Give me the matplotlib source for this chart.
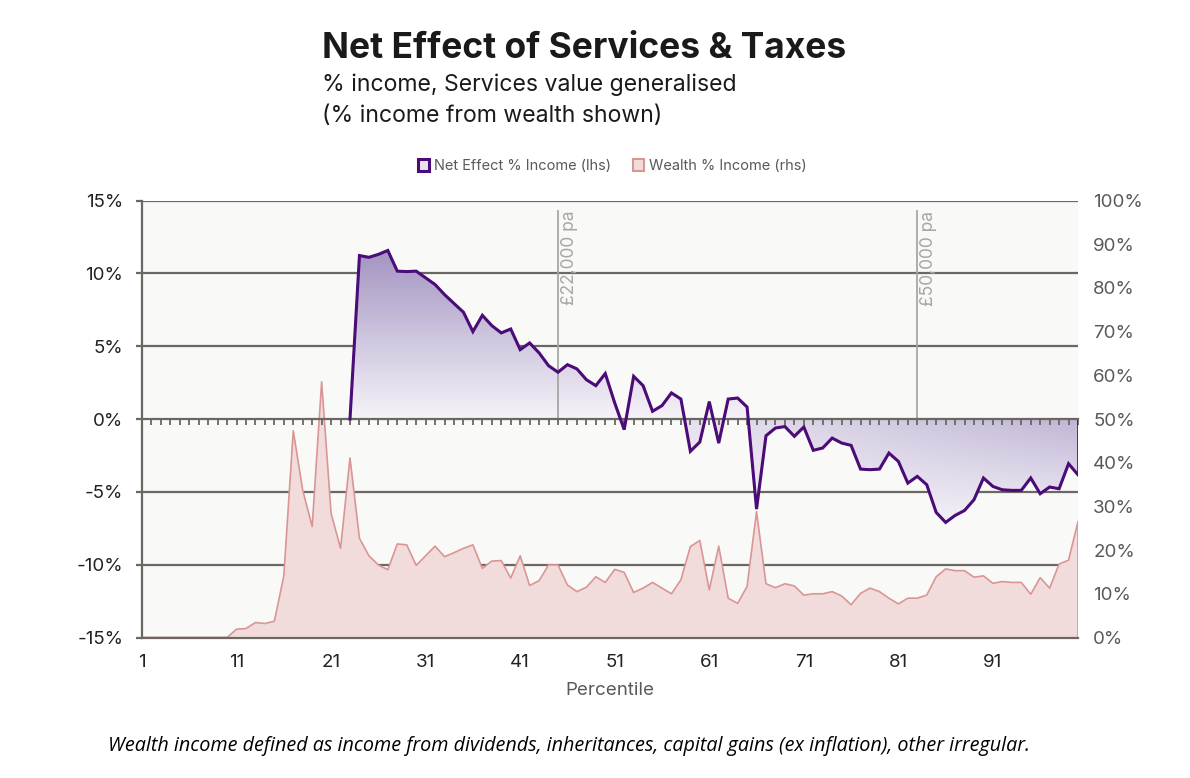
import numpy as np
import matplotlib
matplotlib.use("Agg")
import matplotlib.pyplot as plt
from matplotlib.path import Path
from matplotlib.patches import PathPatch, Patch
from matplotlib.transforms import blended_transform_factory

plt.rcParams["font.family"] = ["Inter", "DejaVu Sans"]

# percentile 1..100
percentile = np.arange(1, 101)

# net effect of services & taxes, % of income (lhs)
net_effect = [
    0, 0, 0, 0, 0, 0, 0, 0, 0, 0,
    0, 0, 0, 0, 0, 0, 0, 0, 0, 0,
    0, 0, 0, 11.22, 11.1, 11.3, 11.57, 10.15, 10.12, 10.15,
    9.69, 9.23, 8.54, 7.93, 7.33, 6.0, 7.12, 6.41, 5.91, 6.18,
    4.76, 5.22, 4.54, 3.66, 3.21, 3.73, 3.44, 2.70, 2.29, 3.12,
    1.10, -0.73, 2.93, 2.29, 0.53, 0.92, 1.79, 1.37, -2.22, -1.58,
    1.19, -1.65, 1.37, 1.44, 0.82, -6.18, -1.15, -0.62, -0.52, -1.19,
    -0.55, -2.15, -1.99, -1.31, -1.65, -1.81, -3.44, -3.48, -3.44, -2.34,
    -2.91, -4.40, -3.94, -4.51, -6.41, -7.10, -6.62, -6.28, -5.54, -4.05,
    -4.63, -4.86, -4.90, -4.90, -4.05, -5.13, -4.67, -4.79, -3.07, -3.83,
]
first_net = 23  # line is drawn from this percentile on

# wealth income as % of income (rhs)
wealth = [
    0, 0, 0, 0, 0, 0, 0, 0, 0, 0,
    1.9, 2.06, 3.43, 3.2, 3.73, 14.1, 47.3, 33.7, 25.4, 58.5,
    28.4, 20.4, 41.1, 22.7, 18.7, 16.6, 15.5, 21.4, 21.2, 16.5,
    18.7, 20.9, 18.5, 19.4, 20.4, 21.2, 15.8, 17.5, 17.6, 13.6,
    18.7, 11.9, 13.0, 16.6, 16.6, 12.0, 10.5, 11.5, 13.9, 12.6,
    15.6, 14.9, 10.3, 11.3, 12.6, 11.3, 10.0, 13.2, 20.8, 22.2,
    10.9, 20.9, 9.0, 7.8, 11.7, 28.8, 12.3, 11.4, 12.3, 11.8,
    9.7, 10.0, 10.0, 10.5, 9.5, 7.5, 10.1, 11.3, 10.5, 9.0,
    7.7, 9.0, 9.0, 9.7, 13.9, 15.7, 15.3, 15.3, 13.8, 14.1,
    12.4, 12.8, 12.6, 12.6, 9.9, 13.7, 11.3, 16.8, 17.7, 26.5,
]

# income markers (percentile, label)
markers = [(45, "£22,000 pa"), (83, "£50,000 pa")]
marker_top = 14.3

left_ticks = [-15, -10, -5, 0, 5, 10, 15]
right_ticks = list(range(0, 101, 10))
x_ticks = list(range(1, 101, 10))

PURPLE = "#4B0C78"
PINK_LINE = "#D99694"
PINK_FILL = "#F2DCDB"
GRID = "#6B6762"
BG = "#F9F9F7"

fig = plt.figure(figsize=(11.9, 7.78), dpi=100)
rect = [142 / 1190, 1 - 637.5 / 778, 936 / 1190, 437 / 778]

# right axis (wealth) underneath, left axis (net effect) on top
ax2 = fig.add_axes(rect, zorder=1)
ax = fig.add_axes(rect, zorder=2, sharex=ax2)
ax.patch.set_visible(False)
ax2.set_facecolor(BG)

ax.set_xlim(1, 100)
ax.set_ylim(-15, 15)
ax2.set_ylim(0, 100)

# gridlines follow the left scale but sit below the wealth area
tr = blended_transform_factory(ax2.transAxes, ax.transData)
for v in left_ticks:
    if v == 0:
        continue
    ax2.plot([0, 1], [v, v], transform=tr, color=GRID, lw=1.6, zorder=0.5)

# wealth area
ax2.fill_between(percentile, wealth, 0, facecolor=PINK_FILL, edgecolor="none", zorder=1)
ax2.plot(percentile, wealth, color=PINK_LINE, lw=1.2, zorder=2)
ax2.plot([100, 100], [0, wealth[-1]], color=PINK_LINE, lw=1.2, zorder=2)

# net effect area with gradient fill
verts = np.vstack([np.column_stack([percentile, net_effect]),
                   np.column_stack([percentile[::-1], np.zeros(100)]),
                   [[percentile[0], net_effect[0]]]])
codes = [Path.MOVETO] + [Path.LINETO] * (len(verts) - 2) + [Path.CLOSEPOLY]
area = PathPatch(Path(verts, codes), facecolor="none", edgecolor=PURPLE,
                 lw=1.2, transform=ax.transData, zorder=2)
ax.add_patch(area)

gx = np.linspace(1, 100, 300)
gy = np.linspace(-8, 12, 300)
GX, GY = np.meshgrid(gx, gy)
t_pos = np.clip(GY / 11.6, 0, 1)
t_neg = np.clip((0.15 + 0.5 * (GX - 55) / 45) * (1 + GY / 7.5), 0, 1)
t = np.where(GY >= 0, t_pos, t_neg)
dark = np.array([0.64, 0.58, 0.76])
light = np.array([0.965, 0.955, 0.975])
img = light + t[..., None] * (dark - light)
im = ax.imshow(img, extent=[1, 100, -8, 12], origin="lower", aspect="auto",
               interpolation="bilinear", zorder=1.5)
im.set_clip_path(area)

ax.plot(percentile[first_net - 1:], net_effect[first_net - 1:], color=PURPLE,
        lw=2.2, zorder=4, solid_joinstyle="miter")

# income reference lines
for p, label in markers:
    ax.plot([p, p], [0, marker_top], color="#A6A6A6", lw=1.3, zorder=3)
    ax.annotate(label, xy=(p, marker_top), xytext=(2, 0), textcoords="offset points",
                rotation=90, ha="left", va="top", fontsize=12.5, color="#A6A6A6")

# spines
for s in ["top", "right"]:
    ax.spines[s].set_visible(False)
    ax2.spines[s].set_visible(False)
ax2.spines["left"].set_visible(False)
ax.spines["left"].set_color(GRID)
ax.spines["left"].set_linewidth(1.6)
ax.spines["bottom"].set_position(("data", 0))
ax.spines["bottom"].set_color(GRID)
ax.spines["bottom"].set_linewidth(1.6)
ax.spines["bottom"].set_zorder(3)
ax2.spines["bottom"].set_color(GRID)
ax2.spines["bottom"].set_linewidth(1.6)

# ticks
ax2.set_xticks(x_ticks)
ax2.set_xticks(range(1, 101), minor=True)
ax2.tick_params(axis="x", which="both", length=0, labelbottom=True, pad=12,
                labelsize=13.5, labelcolor="#222222")
ax.tick_params(axis="x", which="both", length=4, width=1.3, color=GRID,
               direction="out", labelbottom=False)

ax.set_yticks(left_ticks)
ax.set_yticklabels([f"{v}%" for v in left_ticks])
ax.tick_params(axis="y", length=4.5, width=1.6, color=GRID, pad=9,
               labelsize=13.5, labelcolor="#222222")

ax2.yaxis.tick_right()
ax2.set_yticks(right_ticks)
ax2.set_yticklabels([f"{v}%" for v in right_ticks])
ax2.tick_params(axis="y", length=0, pad=11, labelsize=13.5, labelcolor="#595959")

ax2.set_xlabel("Percentile", fontsize=13.5, color="#595959", labelpad=8)

# legend
handles = [
    Patch(facecolor="#E8E2EE", edgecolor=PURPLE, lw=2.2),
    Patch(facecolor=PINK_FILL, edgecolor=PINK_LINE, lw=1.5),
]
fig.legend(handles, ["Net Effect % Income (lhs)", "Wealth % Income (rhs)"],
           loc="center", bbox_to_anchor=(612 / 1190, 1 - 166 / 778), ncol=2,
           frameon=False, fontsize=10.5, labelcolor="#595959",
           handlelength=0.8, handleheight=0.8, handletextpad=0.3, columnspacing=1.5)

# titles
fig.text(322 / 1190, 1 - 58 / 778, "Net Effect of Services & Taxes",
         fontsize=25.5, fontweight="bold", color="#1A1A1A", va="baseline")
fig.text(322 / 1190, 1 - 91 / 778, "% income, Services value generalised",
         fontsize=16.6, color="#1A1A1A", va="baseline")
fig.text(322 / 1190, 1 - 122 / 778, "(% income from wealth shown)",
         fontsize=16.6, color="#1A1A1A", va="baseline")

fig.text(108 / 1190, 1 - 751 / 778,
         "Wealth income defined as income from dividends, inheritances, capital gains "
         "(ex inflation), other irregular.",
         fontsize=14.2, style="italic", color="#000000", va="baseline",
         family=["Liberation Sans Narrow", "Open Sans", "DejaVu Sans"])

fig.savefig("out.png", dpi=100)
